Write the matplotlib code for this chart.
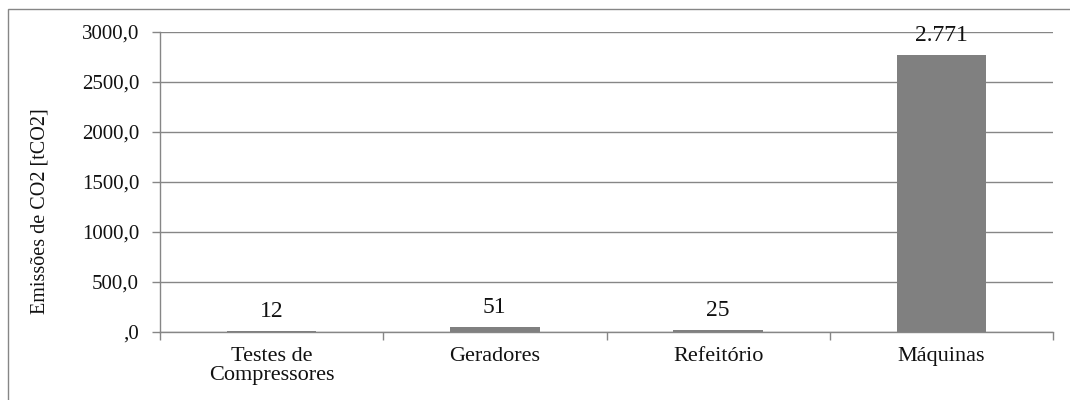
import matplotlib
matplotlib.use("Agg")
import matplotlib.pyplot as plt
from matplotlib.patches import Rectangle
from matplotlib.ticker import FixedLocator, NullFormatter

categories = ["Testes de\nCompressores", "Geradores", "Refeitório", "Máquinas"]
emissions = [12, 51, 25, 2771]
value_labels = ["12", "51", "25", "2.771"]
y_ticks = [0, 500, 1000, 1500, 2000, 2500, 3000]
y_tick_labels = [",0", "500,0", "1000,0", "1500,0", "2000,0", "2500,0", "3000,0"]

plt.rcParams["font.family"] = ["Liberation Serif", "DejaVu Serif"]
W, H = 1070, 400
fig = plt.figure(figsize=(W / 100, H / 100), dpi=100)

# outer frame of the chart area
fig.patches.append(Rectangle((8 / W, -0.05), 1.2, 1 - 9 / H + 0.05,
                             transform=fig.transFigure, fill=False,
                             edgecolor="#868686", linewidth=1.0))

ax = fig.add_axes([160 / W, 1 - 332 / H, (1053 - 160) / W, 300 / H])
x = list(range(len(categories)))
ax.bar(x, emissions, width=0.4, color="#808080", zorder=3)
for xi, v, lab in zip(x, emissions, value_labels):
    ax.annotate(lab, (xi, v), xytext=(0, 10), textcoords="offset points",
                ha="center", va="baseline", fontsize=17, color="#111111", zorder=4)

ax.set_xlim(-0.5, len(categories) - 0.5)
ax.set_ylim(0, 3000)
ax.set_yticks(y_ticks)
ax.set_yticklabels(y_tick_labels, fontsize=15, color="#111111")
ax.set_xticks(x)
ax.set_xticklabels(categories, fontsize=16, linespacing=0.95, color="#111111")
ax.tick_params(axis="x", which="major", length=0, pad=11)
ax.xaxis.set_minor_locator(FixedLocator([i - 0.5 for i in range(len(categories) + 1)]))
ax.xaxis.set_minor_formatter(NullFormatter())
ax.tick_params(axis="x", which="minor", length=6, color="#868686", width=1)
ax.tick_params(axis="y", length=6, color="#868686", width=1, pad=9)
ax.grid(axis="y", color="#868686", linewidth=1, zorder=0)
for side in ("top", "right"):
    ax.spines[side].set_visible(False)
for side in ("left", "bottom"):
    ax.spines[side].set_color("#868686")
    ax.spines[side].set_linewidth(1)
ax.set_ylabel("Emissões de CO2 [tCO2]", fontsize=14.5, color="#111111",
              va="center", ha="center")
ax.yaxis.set_label_coords(-0.134, 0.403)

fig.savefig("out.png", dpi=100)
